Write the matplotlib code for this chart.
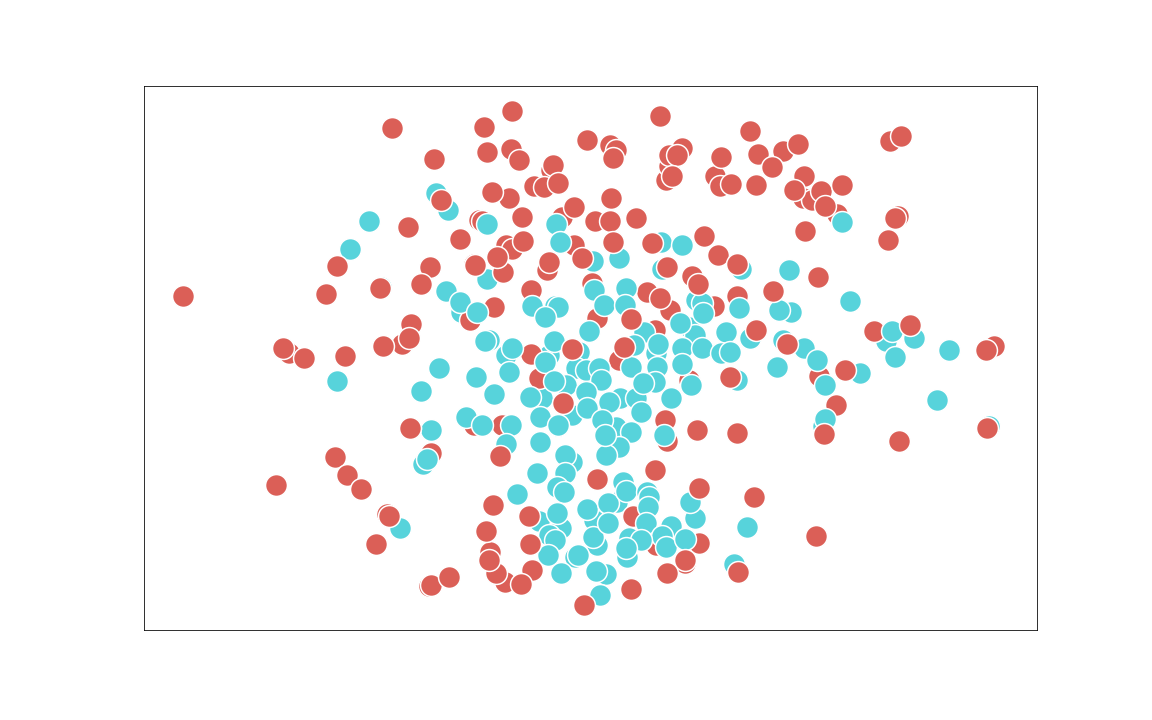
import matplotlib
matplotlib.use('Agg')
import matplotlib.pyplot as plt

RED = '#db5f57'
TEAL = '#57d3db'

# in drawing order (bottom to top)
teal_under_x = [437, 449, 594, 662, 663, 742, 382, 490, 507, 466, 556, 580, 577, 567, 543, 573, 617, 540, 573, 562, 550, 576, 607, 598, 595, 618, 630, 628, 690, 696, 697, 657, 621, 792, 887, 784, 824, 990, 424, 488, 738, 550, 462]
teal_under_y = [193, 210, 261, 242, 269, 269, 287, 340, 355, 311, 306, 352, 368, 385, 398, 415, 427, 521, 462, 528, 535, 557, 574, 545, 520, 502, 538, 557, 327, 335, 300, 353, 398, 312, 341, 340, 426, 426, 464, 279, 380, 355, 312]

red_mid_x = [575, 563, 620, 690, 471, 540, 666, 668, 657, 700, 838, 593, 532, 495, 564, 598, 634, 715, 656, 671, 648, 661, 738, 875, 820, 837, 432, 475, 503, 480, 483, 507, 513, 548, 504, 552, 596, 614, 686, 491, 506, 497, 430, 388, 611, 667, 670, 683, 670, 804, 813, 716, 995, 899, 290, 403, 552, 512, 510, 535, 545, 532]
red_mid_y = [245, 217, 360, 380, 320, 378, 420, 441, 545, 543, 214, 283, 354, 307, 403, 318, 516, 306, 330, 310, 292, 298, 296, 331, 376, 405, 453, 425, 425, 220, 221, 245, 249, 270, 272, 170, 221, 242, 563, 552, 582, 573, 586, 514, 145, 180, 166, 148, 155, 198, 200, 176, 346, 216, 353, 344, 170, 149, 198, 186, 187, 290]

teal_top_x = [370, 351, 338, 440, 422, 432, 467, 477, 447, 461, 478, 401, 428, 486, 513, 510, 495, 483, 512, 507, 538, 541, 559, 566, 566, 518, 558, 565, 558, 556, 549, 562, 579, 597, 601, 594, 588, 609, 609, 624, 627, 648, 650, 649, 647, 672, 663, 667, 686, 696, 691, 642, 627, 748, 735, 488, 557, 561, 620, 595, 605, 590, 627, 626, 533, 559, 546, 555, 546, 555, 531, 587, 600, 602, 587, 610, 588, 637, 642, 541, 603, 559, 645, 659, 635, 683, 683, 658, 632, 656, 644, 692, 672, 665, 632, 620, 607, 606, 681, 703, 704, 740, 727, 751, 703, 722, 731, 683, 790, 780, 851, 893, 915, 896, 950, 805, 818, 861, 778, 826, 826, 938, 843]
teal_top_y = [221, 249, 381, 368, 391, 430, 417, 377, 291, 302, 312, 528, 459, 341, 348, 372, 394, 425, 425, 444, 473, 442, 426, 455, 473, 494, 487, 492, 513, 540, 555, 573, 555, 571, 595, 537, 509, 503, 523, 482, 491, 492, 497, 507, 523, 526, 536, 547, 539, 518, 502, 540, 548, 527, 564, 224, 224, 242, 258, 290, 305, 331, 288, 305, 306, 307, 317, 341, 362, 381, 397, 370, 368, 380, 392, 402, 408, 398, 412, 417, 420, 425, 332, 344, 345, 348, 364, 367, 367, 382, 383, 385, 398, 435, 432, 447, 455, 435, 323, 303, 313, 308, 332, 338, 348, 353, 352, 245, 270, 310, 301, 331, 338, 357, 350, 348, 360, 373, 367, 385, 419, 400, 222]

red_top_x = [184, 393, 409, 338, 327, 381, 431, 422, 412, 410, 384, 346, 305, 284, 411, 336, 348, 362, 277, 390, 377, 432, 450, 513, 485, 488, 520, 435, 588, 617, 614, 661, 678, 673, 554, 559, 493, 442, 523, 575, 612, 596, 611, 637, 583, 461, 524, 498, 475, 550, 653, 705, 719, 668, 693, 699, 738, 573, 625, 632, 757, 731, 751, 722, 759, 784, 799, 773, 721, 732, 757, 805, 795, 822, 843, 826, 806, 896, 889, 891, 902, 819, 774, 788, 846, 911, 987, 988, 825, 900, 817, 738, 698, 501, 411, 494, 530, 487, 531, 533, 522, 490, 585, 632, 668, 598, 656, 700, 686, 739, 755, 614, 476]
red_top_y = [296, 128, 227, 266, 294, 288, 267, 284, 324, 338, 346, 356, 358, 348, 428, 457, 475, 489, 485, 516, 544, 585, 577, 111, 127, 152, 160, 159, 140, 150, 158, 116, 155, 176, 165, 183, 192, 200, 217, 207, 198, 221, 221, 218, 258, 239, 241, 257, 264, 262, 243, 236, 255, 267, 276, 284, 264, 349, 347, 319, 330, 377, 131, 157, 154, 151, 144, 167, 186, 184, 185, 176, 190, 191, 185, 206, 231, 218, 240, 141, 136, 277, 291, 344, 370, 325, 350, 428, 434, 441, 536, 433, 430, 456, 428, 505, 516, 531, 544, 570, 584, 560, 605, 589, 573, 479, 470, 488, 560, 572, 497, 242, 265]

layers = [
    (teal_under_x, teal_under_y, TEAL),
    (red_mid_x, red_mid_y, RED),
    (teal_top_x, teal_top_y, TEAL),
    (red_top_x, red_top_y, RED),
]

fig = plt.figure(figsize=(16, 10), dpi=72)
ax = fig.add_axes([0.125, 0.125, 0.775, 0.755])
for xs, ys, color in layers:
    ax.scatter(xs, ys, s=480, c=color, edgecolors='white', linewidths=1.5)

ax.set_xlim(144.6, 1037.6)
ax.set_ylim(630.3, 86.3)
ax.set_xticks([])
ax.set_yticks([])
fig.savefig('out.png', dpi=72)
